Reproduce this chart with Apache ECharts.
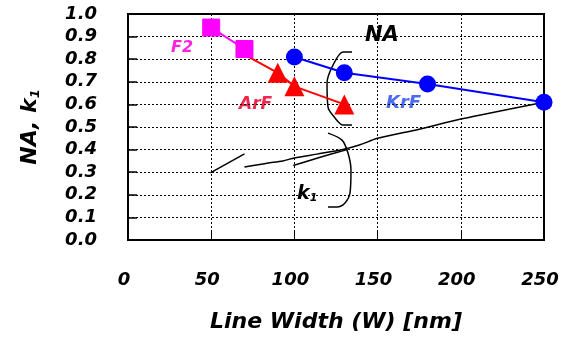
<!DOCTYPE html>
<html>
<head>
<meta charset="utf-8">
<script src="https://cdn.jsdelivr.net/npm/echarts@6/dist/echarts.min.js"></script>
<style>
  html, body { margin: 0; padding: 0; background: #fff; }
  #chart { width: 567px; height: 339px; }
</style>
</head>
<body>
<div id="chart"></div>
<script>
// tick values
var xTicks = [0, 50, 100, 150, 200, 250];
var yTicks = [0, 0.1, 0.2, 0.3, 0.4, 0.5, 0.6, 0.7, 0.8, 0.9, 1.0];

// NA values per source (line width nm, NA)
var f2Data = [[50, 0.94], [70, 0.845]];
var arfData = [[70, 0.82], [90, 0.74], [100, 0.68], [130, 0.60]];
var krfData = [[100, 0.81], [130, 0.74], [180, 0.69], [250, 0.61]];

// k1 hand drawn trend
var k1Short = [[49.5, 0.297], [70, 0.381]];
var k1Main = [[70, 0.323], [83.5, 0.34], [93, 0.35], [100, 0.363], [113.5, 0.38],
              [129, 0.40], [139, 0.42], [150, 0.45], [175, 0.49], [200, 0.535], [250, 0.61]];
var k1Lower = [[99.3, 0.33], [115, 0.365], [131.6, 0.40]];

// bracket strokes
var naBracket = [[134.6, 0.832], [129.2, 0.832], [123.2, 0.774], [119.6, 0.695],
                 [120.2, 0.588], [124.4, 0.54], [129.2, 0.509], [134.6, 0.509]];
var k1Bracket = [[120.2, 0.473], [128.6, 0.442], [132.2, 0.385], [134.0, 0.31],
                 [133.4, 0.208], [130.4, 0.164], [125.6, 0.146], [120.2, 0.146]];

var font = '"DejaVu Sans", "Liberation Sans", sans-serif';

var chart = echarts.init(document.getElementById('chart'));

function strokeSeries(data) {
    return {
        type: 'line',
        data: data,
        symbol: 'none',
        smooth: 0.3,
        silent: true,
        z: 1,
        lineStyle: { color: '#000', width: 1.5 }
    };
}

var arfSeriesData = arfData.map(function (p, i) {
    return i === 0 ? { value: p, symbolSize: 0 } : p;
});

var option = {
    animation: false,
    grid: {
        left: 128, right: 23, top: 14, bottom: 99,
        outerBoundsMode: 'none',
        containLabel: false,
        show: true, borderColor: '#000', borderWidth: 2
    },
    xAxis: {
        type: 'value',
        min: 0, max: 250, interval: 50,
        name: 'Line Width (W) [nm]',
        nameLocation: 'middle',
        nameGap: 71,
        nameTextStyle: { fontFamily: font, fontSize: 22, fontWeight: 'bold', fontStyle: 'italic', color: '#000' },
        axisLine: { show: true, lineStyle: { color: '#000', width: 2 } },
        axisTick: { show: true, inside: true, length: 8, lineStyle: { color: '#000', width: 1 } },
        axisLabel: {
            margin: 31, color: '#000', fontFamily: font, fontSize: 18, fontWeight: 'bold', fontStyle: 'italic',
            padding: [0, 8, 0, 0],
            formatter: function (v) { return xTicks.indexOf(v) >= 0 ? String(v) : ''; }
        },
        splitLine: { show: true, lineStyle: { color: '#000', type: [2, 2], width: 1 } }
    },
    yAxis: {
        type: 'value',
        min: 0, max: 1, interval: 0.1,
        name: 'NA, k{s|1}',
        nameLocation: 'middle',
        nameGap: 86,
        nameTextStyle: {
            fontFamily: font, fontSize: 22, fontWeight: 'bold', fontStyle: 'italic', color: '#000',
            rich: { s: { fontFamily: font, fontSize: 13, fontWeight: 'bold', fontStyle: 'italic', color: '#000', verticalAlign: 'bottom', padding: [10, 0, 0, 0] } }
        },
        axisLine: { show: true, lineStyle: { color: '#000', width: 2 } },
        axisTick: { show: true, inside: true, length: 9, lineStyle: { color: '#000', width: 1.5 } },
        axisLabel: {
            margin: 31, color: '#000', fontFamily: font, fontSize: 18, fontWeight: 'bold', fontStyle: 'italic',
            padding: [4, 0, 0, 0],
            formatter: function (v) { return v.toFixed(1); }
        },
        splitLine: { show: true, lineStyle: { color: '#000', type: [2, 2], width: 1 } }
    },
    series: [
        strokeSeries(k1Short),
        strokeSeries(k1Main),
        strokeSeries(k1Lower),
        strokeSeries(naBracket),
        strokeSeries(k1Bracket),
        {
            name: 'ArF', type: 'line', data: arfSeriesData,
            symbol: 'triangle', symbolSize: 20, z: 3,
            itemStyle: { color: '#ff0000' },
            lineStyle: { color: '#ff0000', width: 2 }
        },
        {
            name: 'F2', type: 'line', data: f2Data,
            symbol: 'rect', symbolSize: 17, z: 4,
            itemStyle: { color: '#ff00ff', borderColor: '#ff00ff', borderWidth: 1 },
            lineStyle: { color: '#ff00ff', width: 2 }
        },
        {
            name: 'KrF', type: 'line', data: krfData,
            symbol: 'circle', symbolSize: 17, z: 3,
            itemStyle: { color: '#0000ff' },
            lineStyle: { color: '#0000ff', width: 2 }
        }
    ],
    graphic: [
        { type: 'text', left: 171, top: 40, style: { text: 'F2', font: 'italic bold 16px ' + font, fill: '#ff22dd' } },
        { type: 'text', left: 239, top: 96, style: { text: 'ArF', font: 'italic bold 17px ' + font, fill: '#f0284a' } },
        { type: 'text', left: 386, top: 94, style: { text: 'KrF', font: 'italic bold 18px ' + font, fill: '#4a6cf0' } },
        { type: 'text', left: 365, top: 25, style: { text: 'NA', font: 'italic bold 21px ' + font, fill: '#000' } },
        {
            type: 'text', left: 297, top: 185,
            style: {
                text: 'k{s|1}', font: 'italic bold 19px ' + font, fill: '#000',
                rich: { s: { font: 'italic bold 11px ' + font, fill: '#000', verticalAlign: 'bottom', padding: [8, 0, 0, 0] } }
            }
        }
    ]
};

chart.setOption(option);
</script>
</body>
</html>
